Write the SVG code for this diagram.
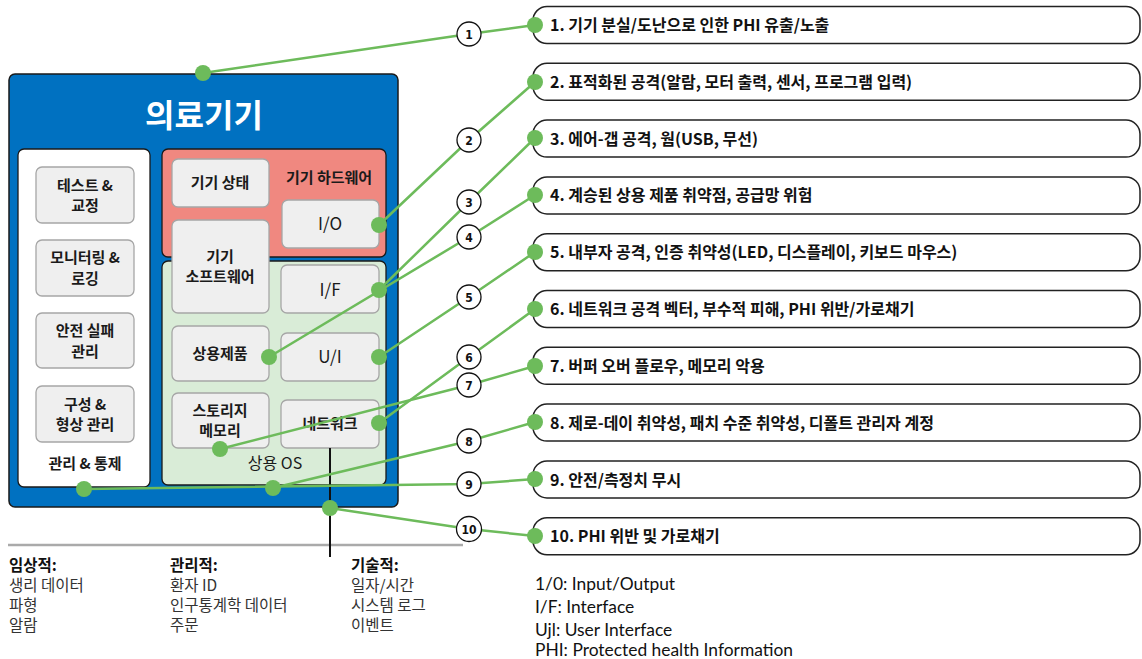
<svg xmlns="http://www.w3.org/2000/svg" width="1142" height="659" viewBox="0 0 1142 659">
<style>
.k{font-family:"Noto Sans CJK KR","Noto Sans",sans-serif}
.box{fill:#efefef;stroke:#a6a6a6;stroke-width:1.3}
.bt{font-family:"Noto Sans CJK KR","Noto Sans",sans-serif;font-size:15px;font-weight:bold;fill:#1a1a1a;text-anchor:middle}
.pill{fill:#fff;stroke:#222;stroke-width:1.5}
.pt{font-family:"Noto Sans CJK KR","Noto Sans",sans-serif;font-size:16px;font-weight:bold;fill:#111}
.ln{fill:none;stroke:#6dbb5b;stroke-width:2.5}
.dot{fill:#6dbb5b}
.nc{fill:#fff;stroke:#111;stroke-width:1.3}
.nt{font-family:"DejaVu Sans Condensed","DejaVu Sans",sans-serif;font-size:12px;font-weight:bold;fill:#111;text-anchor:middle}
.ft{font-family:"Noto Sans CJK KR","Noto Sans",sans-serif;font-size:15.5px;fill:#333}
.fh{font-family:"Noto Sans CJK KR","Noto Sans",sans-serif;font-size:15.5px;font-weight:bold;fill:#111}
.lg{font-family:Lato,"Noto Sans",sans-serif;font-size:17.4px;fill:#111}
</style>
<rect width="1142" height="659" fill="#fff"/>
<g id="device">
<rect x="9" y="74" width="389" height="433" rx="6" fill="#0071c1" stroke="#1a1a1a" stroke-width="1.5"/>
<text x="204" y="127" class="k" font-size="32" font-weight="bold" fill="#fff" text-anchor="middle">의료기기</text>
</g>
<g id="mgmt">
<rect x="18" y="149" width="132" height="338" rx="6" fill="#fff" stroke="#1a1a1a" stroke-width="1.3"/>
<text x="85" y="469" class="bt">관리 &amp; 통제</text>
</g>
<g id="test"><rect x="36" y="167" width="98" height="56" rx="6" class="box"/><text x="85" y="191" class="bt">테스트 &amp;</text><text x="85" y="211" class="bt">교정</text></g>
<g id="monitor"><rect x="36" y="240" width="98" height="56" rx="6" class="box"/><text x="85" y="263" class="bt">모니터링 &amp;</text><text x="85" y="284" class="bt">로깅</text></g>
<g id="failsafe"><rect x="36" y="313" width="98" height="55" rx="6" class="box"/><text x="85" y="336" class="bt">안전 실패</text><text x="85" y="357" class="bt">관리</text></g>
<g id="config"><rect x="36" y="386" width="98" height="56" rx="6" class="box"/><text x="85" y="410" class="bt">구성 &amp;</text><text x="85" y="430" class="bt">형상 관리</text></g>
<g id="hardware">
<rect x="162" y="149" width="224" height="108" rx="6" fill="#f08880" stroke="#1a1a1a" stroke-width="1.3"/>
<text x="329" y="183" class="bt">기기 하드웨어</text>
</g>
<g id="os">
<rect x="162" y="261" width="224" height="224" rx="6" fill="#d9ecd7" stroke="#1a1a1a" stroke-width="1.3"/>
<text x="275" y="469" class="k" font-size="16" fill="#1a1a1a" text-anchor="middle">상용 OS</text>
</g>
<g id="state"><rect x="172" y="159" width="97" height="48" rx="6" class="box"/><text x="220" y="188" class="bt">기기 상태</text></g>
<g id="io"><rect x="282" y="200" width="97" height="48" rx="6" class="box"/><text x="330" y="230" class="k" font-size="17" fill="#1a1a1a" text-anchor="middle">I/O</text></g>
<g id="software"><rect x="172" y="220" width="97" height="93" rx="6" class="box"/><text x="220" y="262" class="bt">기기</text><text x="220" y="282" class="bt">소프트웨어</text></g>
<g id="if"><rect x="281" y="265" width="98" height="48" rx="6" class="box"/><text x="330" y="296" class="k" font-size="17" fill="#1a1a1a" text-anchor="middle">I/F</text></g>
<g id="cots"><rect x="172" y="326" width="97" height="55" rx="6" class="box"/><text x="220" y="359" class="bt">상용제품</text></g>
<g id="ui"><rect x="281" y="333" width="98" height="48" rx="6" class="box"/><text x="330" y="363" class="k" font-size="17" fill="#1a1a1a" text-anchor="middle">U/I</text></g>
<g id="storage"><rect x="172" y="393" width="97" height="55" rx="6" class="box"/><text x="220" y="416" class="bt">스토리지</text><text x="220" y="436" class="bt">메모리</text></g>
<g id="network"><rect x="281" y="400" width="98" height="48" rx="6" class="box"/><text x="330" y="429" class="bt">네트워크</text></g>
<g id="divider">
<line x1="8" y1="545" x2="463" y2="545" stroke="#aaa" stroke-width="2.5"/>
<line x1="330" y1="448" x2="330" y2="557" stroke="#111" stroke-width="2"/>
</g>
<g id="pills">
<rect x="533" y="6.5" width="607" height="37" rx="14" class="pill"/><text x="550" y="30.5" class="pt">1. 기기 분실/도난으로 인한 PHI 유출/노출</text>
<rect x="533" y="63.3" width="607" height="37" rx="14" class="pill"/><text x="550" y="87.5" class="pt">2. 표적화된 공격(알람, 모터 출력, 센서, 프로그램 입력)</text>
<rect x="533" y="120.1" width="607" height="37" rx="14" class="pill"/><text x="550" y="144.5" class="pt">3. 에어-갭 공격, 웜(USB, 무선)</text>
<rect x="533" y="176.9" width="607" height="37" rx="14" class="pill"/><text x="550" y="200.5" class="pt">4. 계승된 상용 제품 취약점, 공급망 위험</text>
<rect x="533" y="233.7" width="607" height="37" rx="14" class="pill"/><text x="550" y="257.5" class="pt">5. 내부자 공격, 인증 취약성(LED, 디스플레이, 키보드 마우스)</text>
<rect x="533" y="290.5" width="607" height="37" rx="14" class="pill"/><text x="550" y="314.5" class="pt">6. 네트워크 공격 벡터, 부수적 피해, PHI 위반/가로채기</text>
<rect x="533" y="347.3" width="607" height="37" rx="14" class="pill"/><text x="550" y="371.5" class="pt">7. 버퍼 오버 플로우, 메모리 악용</text>
<rect x="533" y="404.1" width="607" height="37" rx="14" class="pill"/><text x="550" y="428.5" class="pt">8. 제로-데이 취약성, 패치 수준 취약성, 디폴트 관리자 계정</text>
<rect x="533" y="460.9" width="607" height="37" rx="14" class="pill"/><text x="550" y="485.5" class="pt">9. 안전/측정치 무시</text>
<rect x="533" y="517.7" width="607" height="37" rx="14" class="pill"/><text x="550" y="542" class="pt">10. PHI 위반 및 가로채기</text>
</g>
<g id="connectors">
<polyline class="ln" points="203,73 469,34 535,25"/>
<polyline class="ln" points="379,225 469,140 535,82"/>
<polyline class="ln" points="379,290 469,202 535,138"/>
<polyline class="ln" points="269,357 469,237 535,195"/>
<polyline class="ln" points="379,357 469,297 535,252"/>
<polyline class="ln" points="379,423 469,357 535,309"/>
<polyline class="ln" points="220,449 469,385 535,366"/>
<polyline class="ln" points="273,488 469,441 535,422"/>
<polyline class="ln" points="84,489 469,484 535,479"/>
<polyline class="ln" points="330,508 469,529 535,536"/>
<g>
<circle cx="203" cy="73" r="8" class="dot"/><circle cx="379" cy="225" r="8" class="dot"/><circle cx="379" cy="290" r="8" class="dot"/><circle cx="269" cy="357" r="8" class="dot"/><circle cx="379" cy="357" r="8" class="dot"/><circle cx="379" cy="423" r="8" class="dot"/><circle cx="220" cy="449" r="8" class="dot"/><circle cx="273" cy="488" r="8" class="dot"/><circle cx="84" cy="489" r="8" class="dot"/><circle cx="330" cy="508" r="8" class="dot"/>
<circle cx="535" cy="25" r="8" class="dot"/><circle cx="535" cy="82" r="8" class="dot"/><circle cx="535" cy="138" r="8" class="dot"/><circle cx="535" cy="195" r="8" class="dot"/><circle cx="535" cy="252" r="8" class="dot"/><circle cx="535" cy="309" r="8" class="dot"/><circle cx="535" cy="366" r="8" class="dot"/><circle cx="535" cy="422" r="8" class="dot"/><circle cx="535" cy="479" r="8" class="dot"/><circle cx="535" cy="536" r="8" class="dot"/>
</g>
<g>
<circle cx="469" cy="34" r="12" class="nc"/><text x="469" y="38.5" class="nt">1</text>
<circle cx="469" cy="140" r="12" class="nc"/><text x="469" y="144.5" class="nt">2</text>
<circle cx="469" cy="202" r="12" class="nc"/><text x="469" y="206.5" class="nt">3</text>
<circle cx="469" cy="237" r="12" class="nc"/><text x="469" y="241.5" class="nt">4</text>
<circle cx="469" cy="297" r="12" class="nc"/><text x="469" y="301.5" class="nt">5</text>
<circle cx="469" cy="357" r="12" class="nc"/><text x="469" y="361.5" class="nt">6</text>
<circle cx="469" cy="385" r="12" class="nc"/><text x="469" y="389.5" class="nt">7</text>
<circle cx="469" cy="441" r="12" class="nc"/><text x="469" y="445.5" class="nt">8</text>
<circle cx="469" cy="484" r="12" class="nc"/><text x="469" y="488.5" class="nt">9</text>
<circle cx="469" cy="529" r="12.5" class="nc"/><text x="469" y="533.5" class="nt">10</text>
</g>
</g>
<g id="data-types">
<text x="9" y="571" class="fh">임상적:</text>
<text x="9" y="591" class="ft">생리 데이터</text>
<text x="9" y="611" class="ft">파형</text>
<text x="9" y="631" class="ft">알람</text>
<text x="170" y="571" class="fh">관리적:</text>
<text x="170" y="591" class="ft">환자 ID</text>
<text x="170" y="611" class="ft">인구통계학 데이터</text>
<text x="170" y="631" class="ft">주문</text>
<text x="351" y="571" class="fh">기술적:</text>
<text x="351" y="591" class="ft">일자/시간</text>
<text x="351" y="611" class="ft">시스템 로그</text>
<text x="351" y="631" class="ft">이벤트</text>
</g>
<g id="legend">
<text x="535" y="590" class="lg">1/0: Input/Output</text>
<text x="535" y="613" class="lg">I/F: Interface</text>
<text x="535" y="636" class="lg">Ujl: User Interface</text>
<text x="535" y="656" class="lg">PHI: Protected health Information</text>
</g>
</svg>
